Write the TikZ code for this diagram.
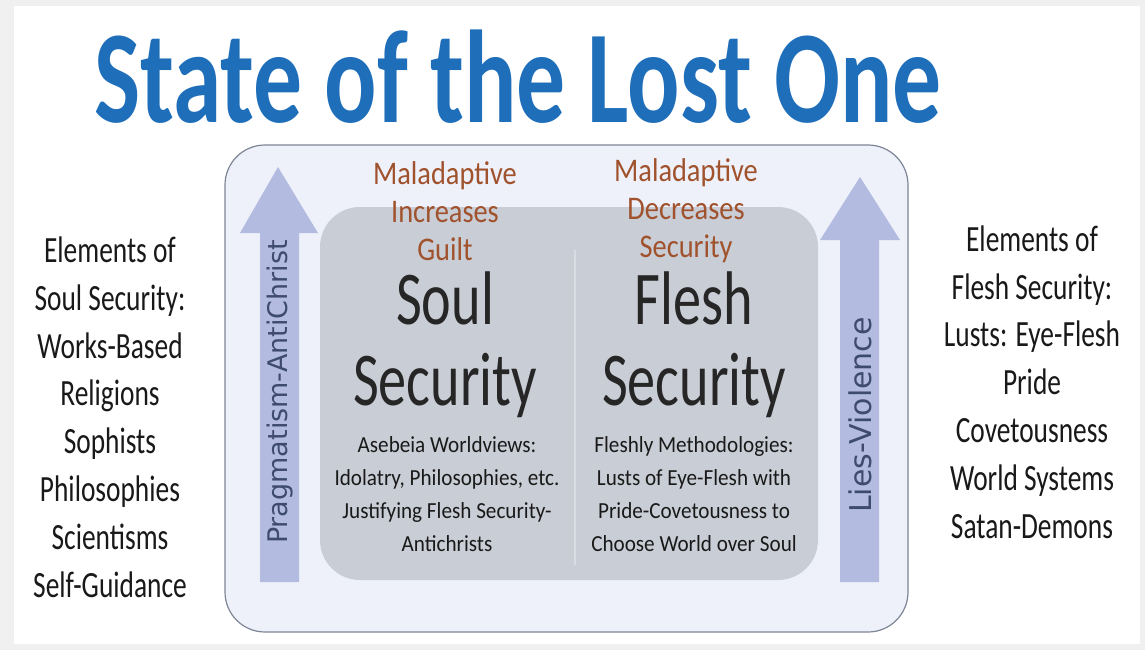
\documentclass[tikz,border=0pt]{standalone}
\usepackage{fontspec}
\setmainfont{Carlito}[FakeStretch=0.74]
\newfontfamily\malfont{Carlito}[FakeStretch=0.86]
\newfontfamily\notefont{Carlito}[FakeStretch=0.92]
\newfontfamily\arrowfont{DejaVu Sans}

\definecolor{titleblue}{HTML}{1F6EBA}
\definecolor{rustbrown}{HTML}{A0522D}
\definecolor{framefill}{HTML}{EEF1FA}
\definecolor{frameline}{HTML}{7D8596}
\definecolor{panelgray}{HTML}{C9CDD5}
\definecolor{arrowblue}{HTML}{B3BCE0}
\definecolor{labelslate}{HTML}{3E4A6E}
\definecolor{pagegray}{HTML}{F0F0F0}

\begin{document}
\begin{tikzpicture}[
    x=1pt, y=-1pt,
    sidetext/.style={align=center, inner sep=0pt, text=black!90, font=\fontsize{37}{47.8}\selectfont},
    maltext/.style={align=center, inner sep=0pt, text=rustbrown, font=\malfont\fontsize{33}{38}\selectfont},
    bigtext/.style={align=center, inner sep=0pt, text=black!85, font=\fontsize{76}{81}\selectfont},
    smalltext/.style={align=center, inner sep=0pt, text=black!90, font=\notefont\fontsize{23}{33}\selectfont},
    arrowlabel/.style={rotate=90, inner sep=0pt, text=labelslate, font=\arrowfont\fontsize{27}{27}\selectfont}
]
    % Page
    \fill[pagegray] (0,0) rectangle (1145,650);
    \fill[white] (14,6) rectangle (1140,644);
    \useasboundingbox (0,0) rectangle (1145,650);

    % Title
    \node[inner sep=0pt, text=titleblue, font=\fontsize{132}{132}\selectfont\bfseries] (title) at (518,77) {State of the Lost One};

    % Frame and panel
    \draw[frameline, fill=framefill, line width=1.2pt, rounded corners=40] (225,145) rectangle (908,632);
    \fill[panelgray, rounded corners=40] (320,207) rectangle (818,580);
    \draw[white!30!panelgray, line width=1.5pt] (575,250) -- (575,565);

    % Up arrows
    \fill[arrowblue] (260,582) -- (260,233) -- (240,233) -- (278,167) -- (318,233) -- (299,233) -- (299,582) -- cycle;
    \fill[arrowblue] (840,582) -- (840,240) -- (820,240) -- (860,177) -- (900,240) -- (879,240) -- (879,582) -- cycle;
    \node[arrowlabel] (pragma) at (280,392) {Pragmatism-AntiChrist};
    \node[arrowlabel, font=\arrowfont\fontsize{30}{30}\selectfont] (lies) at (860,415) {Lies-Violence};

    % Maladaptive notes
    \node[maltext] (guilt) at (445,211) {Maladaptive\\Increases\\Guilt};
    \node[maltext] (insecure) at (686,211) {Maladaptive\\Decreases\\Security};

    % Soul and flesh security
    \node[bigtext] (soul) at (445,345) {Soul\\Security};
    \node[bigtext] (flesh) at (694,345) {Flesh\\Security};
    \node[smalltext] (soulnote) at (447,494) {Asebeia Worldviews:\\Idolatry, Philosophies, etc.\\Justifying Flesh Security-\\Antichrists};
    \node[smalltext] (fleshnote) at (694,494) {Fleshly Methodologies:\\Lusts of Eye-Flesh with\\Pride-Covetousness to\\Choose World over Soul};

    % Side lists
    \node[sidetext] (soullist) at (110,417) {Elements of\\Soul Security:\\Works-Based\\Religions\\Sophists\\Philosophies\\Scientisms\\Self-Guidance};
    \node[sidetext] (fleshlist) at (1032,382) {Elements of\\Flesh Security:\\Lusts: Eye-Flesh\\Pride\\Covetousness\\World Systems\\Satan-Demons};
\end{tikzpicture}
\end{document}
